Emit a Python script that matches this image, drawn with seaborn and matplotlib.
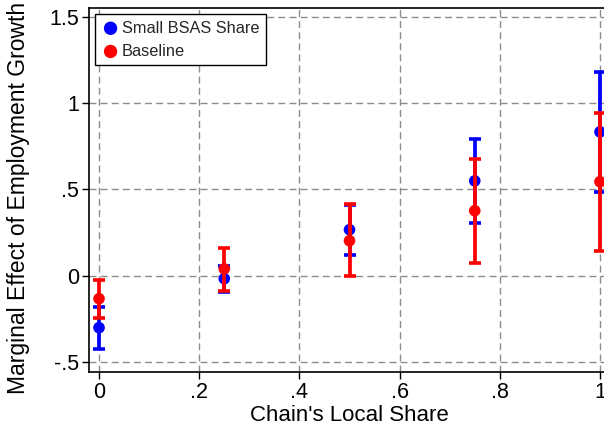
import matplotlib
matplotlib.use("Agg")
import matplotlib.pyplot as plt
import seaborn as sns
import pandas as pd
import numpy as np

# Chain's local share at which marginal effects are evaluated
share = [0.0, 0.25, 0.5, 0.75, 1.0]

# Small BSAS share specification
small_est = [-0.301, -0.017, 0.267, 0.550, 0.834]
small_lo = [-0.423, -0.093, 0.122, 0.307, 0.487]
small_hi = [-0.180, 0.058, 0.410, 0.794, 1.180]

# Baseline specification
base_est = [-0.133, 0.040, 0.203, 0.377, 0.545]
base_lo = [-0.243, -0.087, 0.000, 0.075, 0.145]
base_hi = [-0.023, 0.162, 0.417, 0.678, 0.944]

xticks = [0, 0.2, 0.4, 0.6, 0.8, 1.0]
xtick_labels = ["0", ".2", ".4", ".6", ".8", "1"]
yticks = [-0.5, 0, 0.5, 1.0, 1.5]
ytick_labels = ["-.5", "0", ".5", "1", "1.5"]

df = pd.concat([
    pd.DataFrame({"share": share, "est": small_est, "lo": small_lo,
                  "hi": small_hi, "model": "Small BSAS Share"}),
    pd.DataFrame({"share": share, "est": base_est, "lo": base_lo,
                  "hi": base_hi, "model": "Baseline"}),
], ignore_index=True)

sns.set_theme(style="white")
plt.rcParams["font.family"] = ["Liberation Sans", "DejaVu Sans"]

fig = plt.figure(figsize=(6.04, 4.36), dpi=100)
ax = fig.add_axes([89 / 604, 64 / 436, 521 / 604, 364 / 436])

palette = {"Small BSAS Share": "#0000ff", "Baseline": "#ff0000"}

for i, (name, sub) in enumerate(df.groupby("model", sort=False)):
    c = palette[name]
    ax.errorbar(sub["share"], sub["est"],
                yerr=[sub["est"] - sub["lo"], sub["hi"] - sub["est"]],
                fmt="none", ecolor=c, elinewidth=2.7, capsize=4,
                capthick=2.6, zorder=3 + 2 * i)
    sns.scatterplot(data=sub, x="share", y="est", color=c, s=70,
                    edgecolor="none", ax=ax, zorder=4 + 2 * i, label=name)

ax.set_xlim(-0.02, 1.02)
ax.set_ylim(-0.558, 1.552)
ax.set_xticks(xticks)
ax.set_xticklabels(xtick_labels)
ax.set_yticks(yticks)
ax.set_yticklabels(ytick_labels)
ax.tick_params(axis="both", labelsize=15.5, colors="black", direction="out",
               length=5, width=1, left=True, bottom=True, pad=2)

ax.grid(True, linestyle=(0, (5, 3)), color="#8c8c8c", linewidth=1)
for s in ["left", "bottom", "top", "right"]:
    ax.spines[s].set_color("black")
    ax.spines[s].set_linewidth(1.2)

ax.set_xlabel("Chain's Local Share", fontsize=16, color="black")
ax.set_ylabel("Marginal Effect of Employment Growth", fontsize=16.5,
              color="black")
ax.xaxis.set_label_coords(0.5, -0.092)
ax.yaxis.set_label_coords(-0.113, 0.478)

leg = ax.legend(loc="upper left", bbox_to_anchor=(0.0115, 0.9835),
                borderaxespad=0, fontsize=11.8, frameon=True, fancybox=False,
                edgecolor="black", handletextpad=0.15, borderpad=0.4,
                labelspacing=0.5, handlelength=1.1, markerscale=1.15)
leg.get_frame().set_linewidth(1.0)
leg.get_frame().set_alpha(1)

fig.savefig("out.png", dpi=100)
